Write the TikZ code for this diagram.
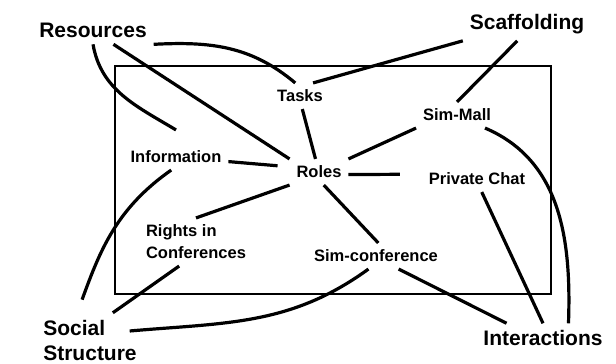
\documentclass[tikz,border=0pt]{standalone}
\usepackage{fontspec}
\setmainfont{Liberation Sans}

\begin{document}
\begin{tikzpicture}
  [x=1pt,y=1pt,every node/.style={inner sep=3pt, outer sep=4pt},
   major/.style={font=\fontsize{21}{25}\selectfont\bfseries, align=left},
   minor/.style={font=\fontsize{16.5}{22}\selectfont\bfseries, align=left},
   link/.style={line width=3.2pt}]
  \useasboundingbox (0,0) rectangle (616,364);
  \draw[line width=2pt] (115,70) rectangle (551,298);
  \node[major] (res) at (93,334) {Resources};
  \node[major] (scaf) at (527,340) {Scaffolding};
  \node[minor] (tasks) at (300,268) {Tasks};
  \node[minor] (mall) at (457,249) {Sim-Mall};
  \node[minor] (info) at (176,207) {Information};
  \node[minor] (roles) at (319,192) {Roles};
  \node[minor] (chat) at (477,185) {Private Chat};
  \node[minor] (rights) at (196,122) {Rights in\\Conferences};
  \node[minor] (conf) at (376,108) {Sim-conference};
  \node[major] (social) at (90,24) {Social\\Structure};
  \node[major] (inter) at (543,26) {Interactions};

  \begin{scope}[link]
  \foreach \from/\to in {res.-35/roles.north west, scaf.south west/tasks.45,
      scaf.-120/mall.north, tasks.-80/roles.105, mall.south west/roles.north east,
      roles.-70/conf.80, roles.south west/rights.north, chat.-70/inter.north,
      conf.-30/inter.158, rights.-125/social.50}
     \draw (\from) -- (\to);
  \draw[shorten >=12pt] (info.-5) -- (roles.170);
  \draw[shorten >=22pt] (roles.-5) -- (chat.175);
  \draw (res.south east) to[out=3,in=140] (tasks.110);
  \draw (res.south) to[out=-80,in=149] ([yshift=14pt]info.north);
  \draw (mall.-25) to[out=-23,in=88] (inter.30);
  \draw (conf.-120) to[out=216,in=5] ([shift={(-14pt,9pt)}]social.east);
  \draw[shorten >=14pt] (info.-110) to[out=215,in=70] (social.115);
  \end{scope}
\end{tikzpicture}
\end{document}
